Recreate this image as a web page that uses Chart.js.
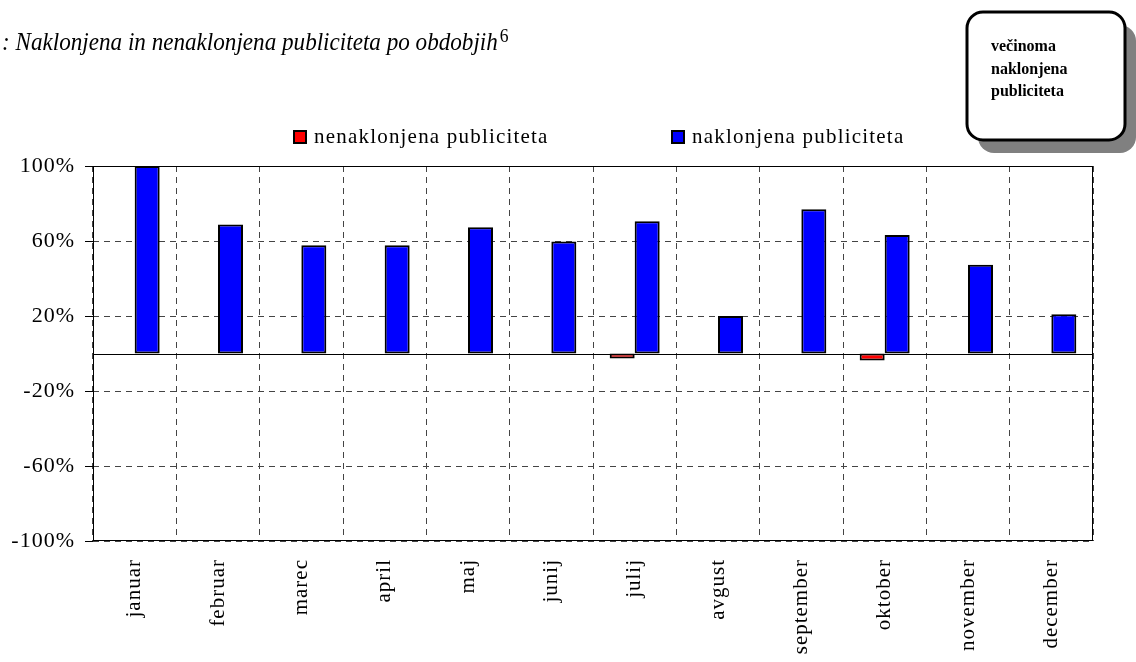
<!DOCTYPE html>
<html>
<head>
<meta charset="utf-8">
<script src="https://cdn.jsdelivr.net/npm/chart.js@4/dist/chart.umd.min.js"></script>
<style>
  html, body { margin: 0; padding: 0; background: #fff; }
  #wrap { width: 1136px; height: 662px; position: relative; }
</style>
</head>
<body>
<div id="wrap"><canvas id="c" width="1136" height="662"></canvas></div>
<script>
const categories = ['januar', 'februar', 'marec', 'april', 'maj', 'junij', 'julij', 'avgust', 'september', 'oktober', 'november', 'december'];
const nenaklonjena = [null, null, null, null, null, null, -2.6, null, null, -3.7, null, null];
const naklonjena = [100, 68.8, 57.7, 57.7, 67.4, 59.8, 70.6, 20, 76.9, 63.2, 47.3, 21];
const yTicks = [-100, -60, -20, 20, 60, 100];
const seriesNames = ['nenaklonjena publiciteta', 'naklonjena publiciteta'];
const titleText = ': Naklonjena in nenaklonjena publiciteta po obdobjih';
const titleSup = '6';
const noteLines = ['večinoma', 'naklonjena', 'publiciteta'];

const SERIF = "'Liberation Serif', 'Times New Roman', serif";

const deco = {
  id: 'deco',
  beforeUpdate(chart) { chart.ctx.letterSpacing = '1px'; },
  beforeDraw(chart) { chart.ctx.letterSpacing = '1px'; },
  beforeDatasetsDraw(chart) {
    const ctx = chart.ctx, a = chart.chartArea, y = chart.scales.y;
    ctx.save();
    ctx.strokeStyle = '#000';
    ctx.lineWidth = 1;
    ctx.setLineDash([]);
    ctx.strokeRect(a.left + 0.5, a.top + 0.5, a.right - a.left - 1, a.bottom - a.top - 1);
    const y0 = Math.round(y.getPixelForValue(0)) + 0.5;
    ctx.beginPath();
    ctx.moveTo(a.left, y0);
    ctx.lineTo(a.right, y0);
    ctx.stroke();
    ctx.restore();
  },
  afterDraw(chart) {
    const ctx = chart.ctx;
    ctx.save();
    ctx.letterSpacing = '0px';
    // title (slightly condensed italic)
    ctx.fillStyle = '#000';
    ctx.textBaseline = 'alphabetic';
    ctx.textAlign = 'left';
    ctx.save();
    ctx.translate(2, 50);
    ctx.scale(0.925, 1);
    ctx.font = 'italic 25px ' + SERIF;
    ctx.fillText(titleText, 0, 0);
    const w = ctx.measureText(titleText).width;
    ctx.font = '19px ' + SERIF;
    ctx.fillText(titleSup, w + 2, -8);
    ctx.restore();

    // note box with shadow
    const bx = 967, by = 12, bw = 158, bh = 128, r = 16;
    ctx.fillStyle = '#808080';
    ctx.beginPath();
    ctx.roundRect(bx + 11, by + 13, bw, bh, r);
    ctx.fill();
    ctx.fillStyle = '#fff';
    ctx.strokeStyle = '#000';
    ctx.lineWidth = 3;
    ctx.beginPath();
    ctx.roundRect(bx, by, bw, bh, r);
    ctx.fill();
    ctx.stroke();
    ctx.fillStyle = '#000';
    ctx.font = 'bold 16px ' + SERIF;
    noteLines.forEach((t, i) => ctx.fillText(t, 991, 51 + i * 22.5));

    // legend
    ctx.letterSpacing = '1.2px';
    ctx.font = '21px ' + SERIF;
    const items = [
      { x: 293, ds: chart.data.datasets[0] },
      { x: 671, ds: chart.data.datasets[1] }
    ];
    items.forEach(it => {
      ctx.fillStyle = it.ds.backgroundColor;
      ctx.strokeStyle = '#000';
      ctx.lineWidth = 2;
      ctx.fillRect(it.x + 1, 131, 12, 12);
      ctx.strokeRect(it.x + 1, 131, 12, 12);
      ctx.fillStyle = '#000';
      ctx.fillText(it.ds.label, it.x + 21, 143);
    });
    ctx.restore();
  }
};

new Chart(document.getElementById('c'), {
  type: 'bar',
  data: {
    labels: categories,
    datasets: [
      { label: seriesNames[0], data: nenaklonjena, backgroundColor: '#ff0000', borderColor: '#000', borderWidth: 2, borderSkipped: false },
      { label: seriesNames[1], data: naklonjena, backgroundColor: '#0000ff', borderColor: '#000', borderWidth: 2, borderSkipped: false }
    ]
  },
  options: {
    responsive: false,
    animation: false,
    devicePixelRatio: 1,
    layout: { padding: { top: 166, right: 43, left: 0, bottom: 0 } },
    datasets: { bar: { barPercentage: 1, categoryPercentage: 0.6 } },
    plugins: { legend: { display: false }, title: { display: false }, tooltip: { enabled: false } },
    scales: {
      x: {
        grid: { offset: true, color: '#444', drawTicks: false, lineWidth: 1 },
        border: { display: false, dash: [6, 5] },
        ticks: { color: '#000', font: { family: SERIF, size: 21 }, minRotation: 90, maxRotation: 90, padding: 18, autoSkip: false },
        afterFit(s) { s.height = 121; }
      },
      y: {
        min: -100, max: 100,
        afterBuildTicks(s) { s.ticks = yTicks.map(v => ({ value: v })); },
        grid: { color: '#444', tickBorderDash: [], tickColor: '#000', tickLength: 8, lineWidth: 1 },
        border: { display: false, dash: [6, 5] },
        ticks: { color: '#000', font: { family: SERIF, size: 22 }, padding: 10, callback: v => v + '%' },
        afterFit(s) { s.width = 93; }
      }
    }
  },
  plugins: [deco]
});
</script>
</body>
</html>
